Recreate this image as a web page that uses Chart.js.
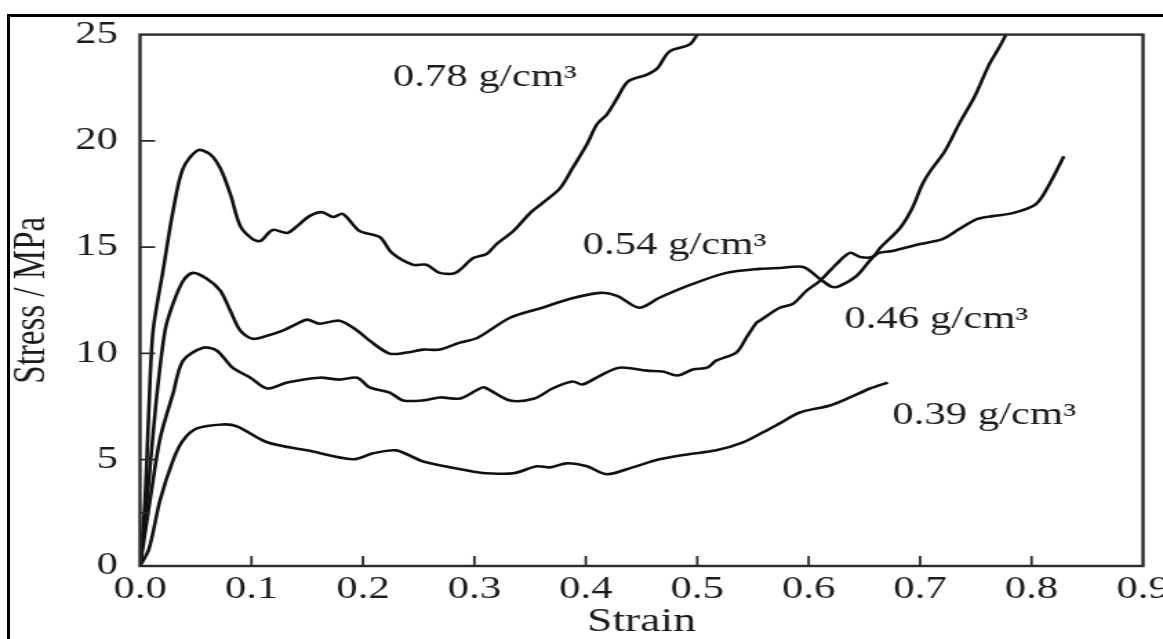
<!DOCTYPE html>
<html>
<head>
<meta charset="utf-8">
<title>Stress vs strain</title>
<script src="https://cdn.jsdelivr.net/npm/chart.js@4/dist/chart.umd.min.js"></script>
<style>
  html, body { margin: 0; padding: 0; background: #fff; overflow: hidden; }
  /* outer figure frame, only its left and top edges fall inside the page */
  #frame {
    position: absolute; left: 7px; top: 14px; width: 1400px; height: 900px;
    border-left: 3px solid #000; border-top: 3px solid #000;
  }
  /* the figure is drawn narrow and stretched sideways */
  #wrap {
    position: absolute; left: 0; top: 0; width: 843px; height: 639px;
    transform: scaleX(1.3796); transform-origin: 0 0;
  }
</style>
</head>
<body>
<div id="frame"></div>
<div id="wrap"><canvas id="stressChart" width="843" height="639"></canvas></div>
<script>
// ---- curve data: strain (-) vs stress (MPa) for each foam density ----
const strain078 = [0, 0.0045, 0.008, 0.0117, 0.0206, 0.0296, 0.0386, 0.052, 0.063, 0.072, 0.081, 0.090,
  0.101, 0.108, 0.119, 0.132, 0.141, 0.152, 0.163, 0.173, 0.182, 0.197, 0.215, 0.226, 0.245, 0.257,
  0.269, 0.283, 0.299, 0.311, 0.320, 0.335, 0.350, 0.361, 0.377, 0.388, 0.401, 0.410, 0.419, 0.428,
  0.438, 0.455, 0.464, 0.475, 0.493, 0.500];
const stress078 = [0, 3.1, 7.5, 11.07, 13.88, 16.70, 18.71, 19.56, 19.37, 18.71, 17.50, 15.99,
  15.38, 15.29, 15.81, 15.67, 15.99, 16.46, 16.65, 16.42, 16.56, 15.76, 15.48, 14.73, 14.17, 14.17,
  13.79, 13.79, 14.49, 14.68, 15.15, 15.76, 16.60, 17.07, 17.78, 18.71, 19.84, 20.78, 21.25, 22.00,
  22.80, 23.12, 23.40, 24.20, 24.53, 25.0];

const strain054 = [0, 0.0063, 0.014, 0.0224, 0.0296, 0.0386, 0.0475, 0.060, 0.072, 0.081, 0.090,
  0.101, 0.114, 0.128, 0.141, 0.150, 0.161, 0.179, 0.195, 0.206, 0.224, 0.239, 0.254, 0.269, 0.287,
  0.303, 0.332, 0.361, 0.386, 0.413, 0.428, 0.448, 0.466, 0.496, 0.526, 0.556, 0.574, 0.595, 0.610,
  0.621, 0.628, 0.643, 0.661, 0.675, 0.700, 0.720, 0.735, 0.751, 0.765, 0.783, 0.804, 0.816, 0.829];
const stress054 = [0, 3.1, 7.5, 11.07, 12.34, 13.41, 13.79, 13.51, 12.95, 12.01, 11.07,
  10.69, 10.83, 11.07, 11.40, 11.59, 11.40, 11.54, 11.07, 10.60, 9.99, 10.04, 10.18, 10.18, 10.51,
  10.74, 11.68, 12.15, 12.57, 12.85, 12.71, 12.15, 12.62, 13.27, 13.79, 13.98, 14.02, 14.07, 13.51,
  13.13, 13.18, 13.65, 14.68, 14.82, 15.15, 15.38, 15.85, 16.32, 16.46, 16.60, 17.03, 17.96, 19.28];

const strain046 = [0, 0.009, 0.018, 0.0296, 0.0386, 0.0565, 0.069, 0.083, 0.099, 0.114, 0.132,
  0.161, 0.179, 0.195, 0.206, 0.224, 0.236, 0.254, 0.269, 0.287, 0.303, 0.309, 0.332, 0.354, 0.370,
  0.388, 0.397, 0.413, 0.430, 0.455, 0.469, 0.482, 0.496, 0.509, 0.517, 0.535, 0.544, 0.553, 0.556,
  0.574, 0.586, 0.598, 0.610, 0.625, 0.637, 0.646, 0.657, 0.664, 0.682, 0.693, 0.702, 0.709, 0.722,
  0.735, 0.749, 0.762, 0.771, 0.777];
const stress046 = [0, 3.1, 6.0, 8.11, 9.66, 10.27, 10.13, 9.33, 8.86, 8.35, 8.63,
  8.86, 8.77, 8.86, 8.40, 8.16, 7.79, 7.79, 7.93, 7.88, 8.30, 8.40, 7.79, 7.88, 8.35,
  8.68, 8.54, 8.96, 9.33, 9.19, 9.15, 8.96, 9.24, 9.33, 9.66, 10.04, 10.74, 11.44, 11.54,
  12.15, 12.34, 12.95, 13.41, 14.21, 14.73, 14.54, 14.54, 14.96, 15.90, 16.84, 17.96, 18.57, 19.5,
  20.8, 22.1, 23.6, 24.4, 25.0];

const strain039 = [0, 0.008, 0.018, 0.0296, 0.0386, 0.051, 0.074, 0.087, 0.114, 0.150, 0.191,
  0.209, 0.230, 0.254, 0.303, 0.311, 0.335, 0.356, 0.368, 0.383, 0.401, 0.419, 0.442, 0.466, 0.491,
  0.517, 0.541, 0.559, 0.574, 0.592, 0.619, 0.637, 0.655, 0.671];
const stress039 = [0, 0.8, 3.1, 4.97, 5.91, 6.47, 6.66, 6.57, 5.82, 5.44, 5.02,
  5.30, 5.44, 4.92, 4.41, 4.36, 4.36, 4.69, 4.64, 4.83, 4.69, 4.32, 4.64, 5.02, 5.25,
  5.44, 5.82, 6.29, 6.71, 7.22, 7.55, 7.93, 8.35, 8.63];

// density labels and where they sit, in strain/stress units (left end, baseline)
const densityLabels = ['0.78 g/cm³', '0.54 g/cm³', '0.46 g/cm³', '0.39 g/cm³'];
const labelStrain = [0.227, 0.397, 0.632, 0.675];
const labelStress = [22.56, 14.68, 11.21, 6.66];

// axis marks
const xTickMarks = [0.1, 0.2, 0.3, 0.4, 0.5, 0.6, 0.7, 0.8];
const yTickMarks = [5, 10, 15, 20];
const yMinorMarks = [2.5];

const SERIF = '"Liberation Serif", "Times New Roman", serif';
const INK = '#1c1c1c';

function toPoints(xs, ys) {
  return xs.map((x, i) => ({ x: x, y: ys[i] }));
}

function curve(xs, ys) {
  return {
    data: toPoints(xs, ys),
    borderColor: '#111',
    borderWidth: 2.6,
    pointRadius: 0,
    tension: 0.3,
    fill: false
  };
}

// plot box plus the short inward tick marks
const axisFrame = {
  id: 'axisFrame',
  afterDraw(chart) {
    const { ctx, chartArea: a, scales: { x, y } } = chart;
    ctx.save();
    ctx.strokeStyle = '#2a2a2a';
    ctx.lineWidth = 2.4;
    ctx.strokeRect(a.left, a.top, a.right - a.left, a.bottom - a.top);
    ctx.lineWidth = 1.8;
    ctx.beginPath();
    xTickMarks.forEach(v => {
      const px = x.getPixelForValue(v);
      ctx.moveTo(px, a.bottom);
      ctx.lineTo(px, a.bottom - 10);
    });
    yTickMarks.forEach(v => {
      const py = y.getPixelForValue(v);
      ctx.moveTo(a.left, py);
      ctx.lineTo(a.left + 11, py);
    });
    yMinorMarks.forEach(v => {
      const py = y.getPixelForValue(v);
      ctx.moveTo(a.left, py);
      ctx.lineTo(a.left + 7, py);
    });
    ctx.stroke();
    ctx.restore();
  }
};

// density text next to each curve
const curveLabels = {
  id: 'curveLabels',
  afterDraw(chart) {
    const { ctx, scales: { x, y } } = chart;
    ctx.save();
    ctx.fillStyle = INK;
    ctx.font = '31px ' + SERIF;
    ctx.textAlign = 'left';
    ctx.textBaseline = 'alphabetic';
    densityLabels.forEach((txt, i) => {
      ctx.fillText(txt, x.getPixelForValue(labelStrain[i]), y.getPixelForValue(labelStress[i]));
    });
    ctx.restore();
  }
};

new Chart(document.getElementById('stressChart'), {
  type: 'line',
  data: {
    datasets: [
      curve(strain078, stress078),
      curve(strain054, stress054),
      curve(strain046, stress046),
      curve(strain039, stress039)
    ]
  },
  options: {
    responsive: false,
    animation: false,
    layout: { padding: { top: 33, right: 14.5, bottom: 0, left: 0 } },
    plugins: { legend: { display: false }, tooltip: { enabled: false } },
    scales: {
      x: {
        type: 'linear',
        min: 0,
        max: 0.9,
        grid: { display: false, drawTicks: false },
        border: { display: false },
        ticks: {
          stepSize: 0.1,
          autoSkip: false,
          maxRotation: 0,
          padding: 5,
          color: INK,
          font: { family: SERIF, size: 31 },
          callback: v => v.toFixed(1)
        },
        title: {
          display: true,
          text: 'Strain',
          color: INK,
          font: { family: SERIF, size: 33, lineHeight: 1 },
          padding: { top: 0, bottom: 0 }
        },
        afterFit: s => { s.height = 73; s.paddingLeft = 0; s.paddingRight = 0; }
      },
      y: {
        min: 0,
        max: 25,
        grid: { display: false, drawTicks: false },
        border: { display: false },
        ticks: {
          stepSize: 5,
          padding: 16,
          color: INK,
          font: { family: SERIF, size: 31 }
        },
        title: {
          display: true,
          text: 'Stress / MPa',
          color: INK,
          font: { family: SERIF, size: 33, lineHeight: 1 },
          padding: { top: 7, bottom: 0 }
        },
        afterFit: s => { s.width = 101.5; }
      }
    }
  },
  plugins: [axisFrame, curveLabels]
});
</script>
</body>
</html>
